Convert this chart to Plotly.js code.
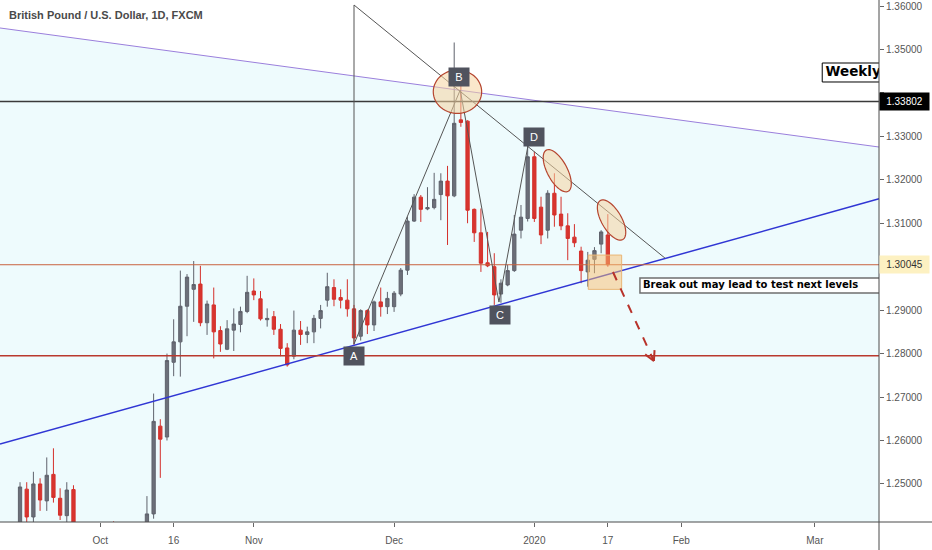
<!DOCTYPE html>
<html><head><meta charset="utf-8">
<script src="https://cdn.plot.ly/plotly-3.0.1.min.js"></script>
<style>html,body{margin:0;padding:0;background:#fff}#chart{width:932px;height:550px}</style>
</head><body><div id="chart"></div>
<script>
// ---------------- data (GBP/USD daily, FXCM) ----------------
const dates = [
 '2019-09-10','2019-09-11','2019-09-12','2019-09-13','2019-09-16','2019-09-17','2019-09-18','2019-09-19','2019-09-20','2019-09-23','2019-09-24','2019-09-25','2019-09-26','2019-09-27','2019-09-30',
 '2019-10-01','2019-10-02','2019-10-03','2019-10-04','2019-10-07','2019-10-08','2019-10-09','2019-10-10','2019-10-11','2019-10-14','2019-10-15','2019-10-16','2019-10-17','2019-10-18','2019-10-21','2019-10-22','2019-10-23','2019-10-24','2019-10-25','2019-10-28','2019-10-29','2019-10-30','2019-10-31',
 '2019-11-01','2019-11-04','2019-11-05','2019-11-06','2019-11-07','2019-11-08','2019-11-11','2019-11-12','2019-11-13','2019-11-14','2019-11-15','2019-11-18','2019-11-19','2019-11-20','2019-11-21','2019-11-22','2019-11-25','2019-11-26','2019-11-27','2019-11-28','2019-11-29',
 '2019-12-02','2019-12-03','2019-12-04','2019-12-05','2019-12-06','2019-12-09','2019-12-10','2019-12-11','2019-12-12','2019-12-13','2019-12-16','2019-12-17','2019-12-18','2019-12-19','2019-12-20','2019-12-23','2019-12-24','2019-12-26','2019-12-27','2019-12-30','2019-12-31',
 '2020-01-02','2020-01-03','2020-01-06','2020-01-07','2020-01-08','2020-01-09','2020-01-10','2020-01-13','2020-01-14','2020-01-15','2020-01-16','2020-01-17'
];
const open = [
 1.2290,1.2355,1.2335,1.2355,1.2488,1.2424,1.2500,1.2461,1.2522,1.2467,1.2427,1.2487,1.2395,1.2318,1.2290,
 1.2295,1.2235,1.2335,1.2332,1.2330,1.2290,1.2210,1.2215,1.2431,1.2633,1.2608,1.2780,1.2827,1.2909,1.2948,1.2960,1.2871,1.2912,1.2853,1.2810,1.2854,1.2867,1.2897,
 1.2944,1.2926,1.2878,1.2885,1.2856,1.2813,1.2794,1.2854,1.2844,1.2850,1.2881,1.2923,1.2952,1.2929,1.2923,1.2903,1.2840,1.2899,1.2866,1.2919,1.2908,
 1.2908,1.2937,1.2992,1.3105,1.3160,1.3133,1.3136,1.3166,1.3197,1.3163,1.3338,1.3335,1.3132,1.3078,1.3009,1.3000,1.2937,1.2958,1.2991,1.3084,1.3111,
 1.3253,1.3137,1.3084,1.3169,1.3121,1.3094,1.3068,1.3036,1.2988,1.3017,1.3052,1.3073
];
const high = [
 1.2385,1.2370,1.2385,1.2504,1.2504,1.2528,1.2513,1.2561,1.2582,1.2490,1.2504,1.2497,1.2405,1.2345,1.2325,
 1.2315,1.2350,1.2414,1.2360,1.2342,1.2295,1.2255,1.2472,1.2708,1.2649,1.2800,1.2879,1.2991,1.2983,1.3013,1.3002,1.2922,1.2952,1.2863,1.2877,1.2904,1.2908,1.2979,
 1.2973,1.2944,1.2904,1.2898,1.2868,1.2824,1.2899,1.2875,1.2862,1.2889,1.2912,1.2986,1.2971,1.2948,1.2971,1.2912,1.2902,1.2902,1.2922,1.2952,1.2942,
 1.2944,1.2997,1.3115,1.3167,1.3165,1.3183,1.3216,1.3215,1.3232,1.3516,1.3427,1.3337,1.3134,1.3134,1.3080,1.3031,1.2971,1.3004,1.3119,1.3142,1.3280,
 1.3265,1.3161,1.3176,1.3215,1.3161,1.3123,1.3098,1.3046,1.3034,1.3045,1.3084,1.3121
];
const low = [
 1.2280,1.2305,1.2285,1.2340,1.2395,1.2400,1.2438,1.2438,1.2457,1.2417,1.2405,1.2380,1.2290,1.2270,1.2270,
 1.2205,1.2208,1.2280,1.2290,1.2270,1.2195,1.2195,1.2205,1.2420,1.2514,1.2600,1.2748,1.2747,1.2840,1.2873,1.2863,1.2843,1.2789,1.2804,1.2808,1.2806,1.2849,1.2893,
 1.2923,1.2876,1.2862,1.2843,1.2794,1.2770,1.2787,1.2820,1.2824,1.2824,1.2858,1.2908,1.2909,1.2904,1.2885,1.2820,1.2830,1.2845,1.2852,1.2885,1.2891,
 1.2896,1.2932,1.2981,1.3103,1.3103,1.3130,1.3132,1.3107,1.3050,1.3160,1.3322,1.3100,1.3057,1.2988,1.2999,1.2912,1.2917,1.2955,1.2988,1.3065,1.3104,
 1.3103,1.3052,1.3065,1.3092,1.3084,1.3015,1.3045,1.2962,1.2954,1.2985,1.3031,1.3000
];
const close = [
 1.2355,1.2335,1.2355,1.2493,1.2424,1.2500,1.2463,1.2520,1.2469,1.2428,1.2486,1.2395,1.2318,1.2290,1.2295,
 1.2235,1.2335,1.2332,1.2330,1.2290,1.2210,1.2215,1.2431,1.2644,1.2603,1.2784,1.2827,1.2909,1.2976,1.2959,1.2871,1.2914,1.2850,1.2822,1.2857,1.2868,1.2897,1.2941,
 1.2935,1.2880,1.2881,1.2856,1.2812,1.2774,1.2854,1.2844,1.2850,1.2881,1.2899,1.2954,1.2925,1.2923,1.2903,1.2836,1.2899,1.2866,1.2919,1.2908,1.2927,
 1.2939,1.2992,1.3105,1.3160,1.3132,1.3136,1.3155,1.3197,1.3163,1.3330,1.3332,1.3130,1.3078,1.3008,1.3002,1.2935,1.2962,1.2991,1.3075,1.3114,1.3253,
 1.3111,1.3073,1.3169,1.3119,1.3094,1.3065,1.3055,1.2991,1.3015,1.3037,1.3080,1.30045
];
const tickDates  = ['2019-10-01','2019-10-16','2019-11-01','2019-12-02','2020-01-02','2020-01-17','2020-02-03','2020-03-02'];
const tickLabels = ['Oct','16','Nov','Dec','2020','17','Feb','Mar'];
const priceTicks = [1.25,1.26,1.27,1.28,1.29,1.30,1.31,1.32,1.33,1.34,1.35,1.36];
const lastPrice   = 1.30045;
const weeklyLevel = 1.33802;
const supportLevel = 1.2795;

// ---------------- helpers ----------------
function barIndex(d){
  const k = dates.indexOf(d);
  if (k >= 0) return k;
  const cur = new Date(dates[dates.length-1] + 'T00:00:00Z');
  const target = new Date(d + 'T00:00:00Z');
  let n = dates.length - 1;
  while (cur < target){
    cur.setUTCDate(cur.getUTCDate()+1);
    const wd = cur.getUTCDay();
    if (wd !== 0 && wd !== 6) n++;
  }
  return n;
}
const X_RANGE = [0, 131.6];
const Y_RANGE = [1.24124, 1.36138];
const PLOT_W = 879, PLOT_H = 522;
const pxX = PLOT_W / (X_RANGE[1]-X_RANGE[0]);
const pxY = PLOT_H / (Y_RANGE[1]-Y_RANGE[0]);

function ellipsePath(cx, cy, a, b, angDeg){
  const th = angDeg*Math.PI/180;
  let s = '';
  for (let k=0;k<=60;k++){
    const t = 2*Math.PI*k/60;
    const ex = a*Math.cos(t), ey = b*Math.sin(t);
    const dx = ex*Math.cos(th) - ey*Math.sin(th);
    const dy = ex*Math.sin(th) + ey*Math.cos(th);
    s += (k?' L':'M') + (cx + dx/pxX).toFixed(4) + ',' + (cy - dy/pxY).toFixed(6);
  }
  return s + ' Z';
}

const xIdx = dates.map((d,i)=>i);

const candles = {
  type:'candlestick', x:xIdx, open:open, high:high, low:low, close:close,
  increasing:{line:{color:'#5f626c', width:1}, fillcolor:'#6c6f79'},
  decreasing:{line:{color:'#d4302b', width:1}, fillcolor:'#d8352f'},
  whiskerwidth:0, hoverinfo:'skip', showlegend:false
};

// text inside the note boxes (clipped to plot area)
const noteText = {
  type:'scatter', mode:'text', x:[96.25, 123.6], y:[1.29566, 1.34469],
  text:['Break out may lead to test next levels','Weekly'],
  textposition:'middle right',
  textfont:{family:'DejaVu Sans', size:[10,13.5], color:'#000', weight:'bold'},
  cliponaxis:true, hoverinfo:'skip', showlegend:false
};

// ---------------- drawings ----------------
const T = [53.0, 1.36023], A = [53.0, 1.28219], B = [68.9, 1.34066],
      C = [74.7, 1.29186], D = [79.04, 1.32777], E = [99.55, 1.30199];
const grayLine = {color:'#555', width:1};
function seg(p, q, line, layer){ return {type:'line', xref:'x', yref:'y', x0:p[0], y0:p[1], x1:q[0], y1:q[1], line:line, layer:layer||'above'}; }

const arrowS = [91.77, 1.29877], arrowE = [97.9, 1.27828];
function arrowHead(){
  const dxp = (arrowE[0]-arrowS[0])*pxX, dyp = -(arrowE[1]-arrowS[1])*pxY; // screen px
  const L = Math.hypot(dxp,dyp), ux = dxp/L, uy = dyp/L;
  const out = [];
  [28,-28].forEach(a=>{
    const r = a*Math.PI/180;
    const bx = -(ux*Math.cos(r) - uy*Math.sin(r))*11;
    const by = -(ux*Math.sin(r) + uy*Math.cos(r))*11;
    out.push(seg(arrowE, [arrowE[0]+bx/pxX, arrowE[1]-by/pxY], {color:'#b8322a', width:2}));
  });
  return out;
}

const shapes = [
  // light background under the descending purple line
  {type:'path', xref:'paper', yref:'y', path:'M0,1.35494 L1,1.32754 L1,1.2400 L0,1.2400 Z', fillcolor:'#eefbfd', line:{width:0}, layer:'below'},
  // note boxes
  {type:'rect', xref:'x', yref:'y', x0:95.81, x1:140, y0:1.29393, y1:1.29739, fillcolor:'#ffffff', line:{color:'#6f6f6f', width:1.5}, layer:'below'},
  {type:'rect', xref:'x', yref:'y', x0:123.1, x1:140, y0:1.34251, y1:1.34688, fillcolor:'#ffffff', line:{color:'#000', width:1}, layer:'below'},
  // trend lines
  {type:'line', xref:'paper', yref:'y', x0:0, x1:1, y0:1.35494, y1:1.32754, line:{color:'#9a7fdc', width:1}, layer:'above'},
  {type:'line', xref:'paper', yref:'y', x0:0, x1:1, y0:1.25917, y1:1.31562, line:{color:'#3036d4', width:1.5}, layer:'above'},
  // horizontal levels
  {type:'line', xref:'paper', yref:'y', x0:0, x1:1, y0:weeklyLevel, y1:weeklyLevel, line:{color:'#3a3a3a', width:1.5}, layer:'above'},
  {type:'line', xref:'paper', yref:'y', x0:0, x1:1, y0:lastPrice, y1:lastPrice, line:{color:'#c9623f', width:1}, layer:'above'},
  {type:'line', xref:'paper', yref:'y', x0:0, x1:1, y0:supportLevel, y1:supportLevel, line:{color:'#b9392e', width:1.3}, layer:'above'},
  // pattern lines
  seg(T, A, grayLine), seg(T, E, grayLine), seg(A, B, grayLine), seg(B, C, grayLine), seg(C, D, grayLine),
  // ellipses
  {type:'path', xref:'x', yref:'y', path:ellipsePath(68.49, 1.34027, 24.2, 21.7, 0), fillcolor:'rgba(246,212,160,0.55)', line:{color:'#b5452f', width:1.2}, layer:'above'},
  {type:'path', xref:'x', yref:'y', path:ellipsePath(83.43, 1.32209, 23.3, 10, 62), fillcolor:'rgba(246,212,160,0.55)', line:{color:'#b5452f', width:1.2}, layer:'above'},
  {type:'path', xref:'x', yref:'y', path:ellipsePath(91.56, 1.31074, 22.5, 10, 60), fillcolor:'rgba(246,212,160,0.55)', line:{color:'#b5452f', width:1.2}, layer:'above'},
  // break-out box
  {type:'rect', xref:'x', yref:'y', x0:88.07, x1:93.07, y0:1.29478, y1:1.30268, fillcolor:'rgba(250,190,110,0.5)', line:{color:'#e9b676', width:1}, layer:'above'},
  // dashed arrow
  seg(arrowS, arrowE, {color:'#b8322a', width:2, dash:'dash'}),
  ...arrowHead(),
  // axis frame lines
  {type:'line', xref:'paper', yref:'paper', x0:0, x1:932/879, y0:0, y1:0, line:{color:'#4a4a4a', width:1}, layer:'above'},
  {type:'line', xref:'paper', yref:'paper', x0:1, x1:1, y0:-28/522, y1:1, line:{color:'#4a4a4a', width:1}, layer:'above'}
];

function pivotLabel(txt, x, y){
  return {xref:'x', yref:'y', x:x, y:y, text:txt, showarrow:false, bgcolor:'#50535e',
          font:{family:'Liberation Sans', size:11, color:'#fff'}, width:14, height:12, borderpad:3};
}
const annotations = [
  {xref:'paper', yref:'paper', x:7/879, y:1-15/522, xanchor:'left', yanchor:'middle', showarrow:false,
   text:'British Pound / U.S. Dollar, 1D, FXCM', font:{family:'Liberation Sans', size:11, color:'#4a4a4a', weight:'bold'}},
  pivotLabel('A', 53.0, 1.27943), pivotLabel('B', 68.7, 1.34366), pivotLabel('C', 74.85, 1.28887), pivotLabel('D', 79.94, 1.32984),
  {xref:'paper', yref:'y', x:1, y:weeklyLevel, xanchor:'left', yanchor:'middle', showarrow:false, text:weeklyLevel.toFixed(5),
   bgcolor:'#000', font:{family:'Liberation Sans', size:10, color:'#fff'}, width:45, height:13, borderpad:2},
  {xref:'paper', yref:'y', x:1, y:lastPrice, xanchor:'left', yanchor:'middle', showarrow:false, text:lastPrice.toFixed(5),
   bgcolor:'#fdf1c2', font:{family:'Liberation Sans', size:10, color:'#333'}, width:45, height:13, borderpad:2}
];

// price-axis labels that sit under the two level tags are hidden, as on the reference
const priceTickText = priceTicks.map(v => (Math.abs(v-lastPrice) < 0.002 || Math.abs(v-weeklyLevel) < 0.003) ? '' : v.toFixed(5));

const layout = {
  width:932, height:550, margin:{l:0, r:53, t:0, b:28, pad:0},
  paper_bgcolor:'#ffffff', plot_bgcolor:'#ffffff', showlegend:false,
  xaxis:{type:'linear', range:X_RANGE, tickvals:tickDates.map(barIndex), ticktext:tickLabels,
         ticks:'outside', ticklen:4, tickcolor:'#666', ticklabelstandoff:5, tickfont:{family:'Liberation Sans', size:10, color:'#555'},
         showgrid:false, zeroline:false, showline:false, rangeslider:{visible:false}, fixedrange:true},
  yaxis:{side:'right', range:Y_RANGE, tickvals:priceTicks, ticktext:priceTickText,
         ticks:'outside', ticklen:4, tickcolor:'#666', tickfont:{family:'Liberation Sans', size:10, color:'#555'},
         showgrid:false, zeroline:false, showline:false, fixedrange:true},
  shapes:shapes, annotations:annotations
};

Plotly.newPlot('chart', [candles, noteText], layout, {displayModeBar:false, staticPlot:true});
</script>
</body></html>
